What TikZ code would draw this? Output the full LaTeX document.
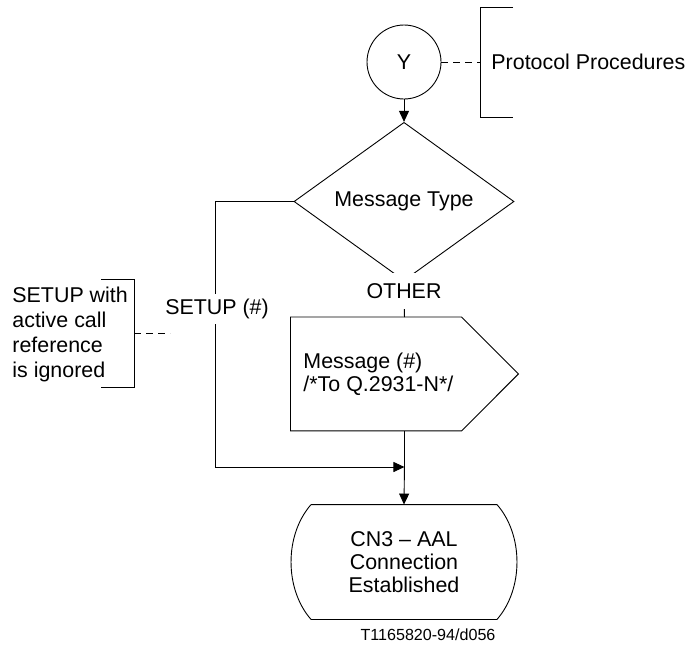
\documentclass[tikz,border=0pt]{standalone}
\usepackage{fontspec}
\setmainfont{Liberation Sans}
\usetikzlibrary{arrows.meta,shapes.geometric}
\begin{document}
\begin{tikzpicture}[x=1pt,y=-1pt, line width=0.9pt,
  txt/.style={font=\fontsize{21.4}{25}\selectfont, inner sep=0pt},
  arr/.style={-{Triangle[length=11pt,width=10pt]}},
  dsh/.style={dash pattern=on 7pt off 5pt}]
\useasboundingbox (0,0) rectangle (687,648);

% nodes
\node[draw, circle, minimum size=74pt, inner sep=0pt, txt] (Y) at (404,62) {Y};
\node[draw, diamond, minimum width=220pt, minimum height=129pt, inner sep=0pt, txt] (mt) at (404,201.5) {Message Type};

\node[minimum width=227pt, minimum height=113pt, inner sep=0pt, anchor=north west] (msg) at (290.5,317) {};
\draw (msg.north west) -- ([xshift=171pt]msg.north west) -- (msg.east)
      -- ([xshift=171pt]msg.south west) -- (msg.south west) -- cycle;
\node[txt, anchor=west, align=left, font=\fontsize{21.4}{23}\selectfont] (msgtxt) at (303,374)
  {Message (\#)\\/*To Q.2931-N*/};

\node[minimum width=185pt, minimum height=114pt, inner sep=0pt, txt, align=center,
      font=\fontsize{21.4}{23}\selectfont] (cn3) at (404,562)
  {CN3 -- AAL\\Connection\\Established};
\draw (cn3.north west) -- (cn3.north east)
   .. controls ([shift={(26.7,30.4)}]cn3.north east) and ([shift={(26.7,-30.4)}]cn3.south east) .. (cn3.south east)
   -- (cn3.south west)
   .. controls ([shift={(-26.7,-30.4)}]cn3.south west) and ([shift={(-26.7,30.4)}]cn3.north west) .. (cn3.north west);

% brackets
\draw (101,279) -- (134,279) -- (134,387) -- (101,387);
\draw (513,7) -- (480,7) -- (480,117) -- (513,117);
\node[txt, anchor=west] (pp) at (491,62) {Protocol Procedures};
\node[txt, anchor=west, align=left] (note) at (12,334.5) {SETUP with\\active call\\reference\\is ignored};

% coordinates
\coordinate (rbm) at (480,62);
\coordinate (lbm) at (134,333);
\coordinate (lbe) at (170,333);
\coordinate (c2) at (215,467);
\coordinate (j) at (msg.south |- c2);

% connectors
\draw[arr] (Y.south) -- (mt.north);
\draw (mt.south) -- (msg.north);
\draw[arr] (mt.west) -| (c2) -- (j);
\draw (msg.south) -- (j);
\draw[arr] (j) -- (cn3.north);
\draw[dsh] (Y.east) -- (rbm);
\draw[dsh] (lbm) -- (lbe);

% labels
\node[txt, fill=white, inner xsep=3pt, inner ysep=10pt] (oth) at (404,291) {OTHER};
\node[txt, fill=white, inner xsep=2pt, inner ysep=5pt] (setup) at (217,309) {SETUP (\#)};
\node[font=\fontsize{16.1}{18}\selectfont, inner sep=0pt] (fig) at (428,635) {T1165820-94/d056};
\end{tikzpicture}
\end{document}
